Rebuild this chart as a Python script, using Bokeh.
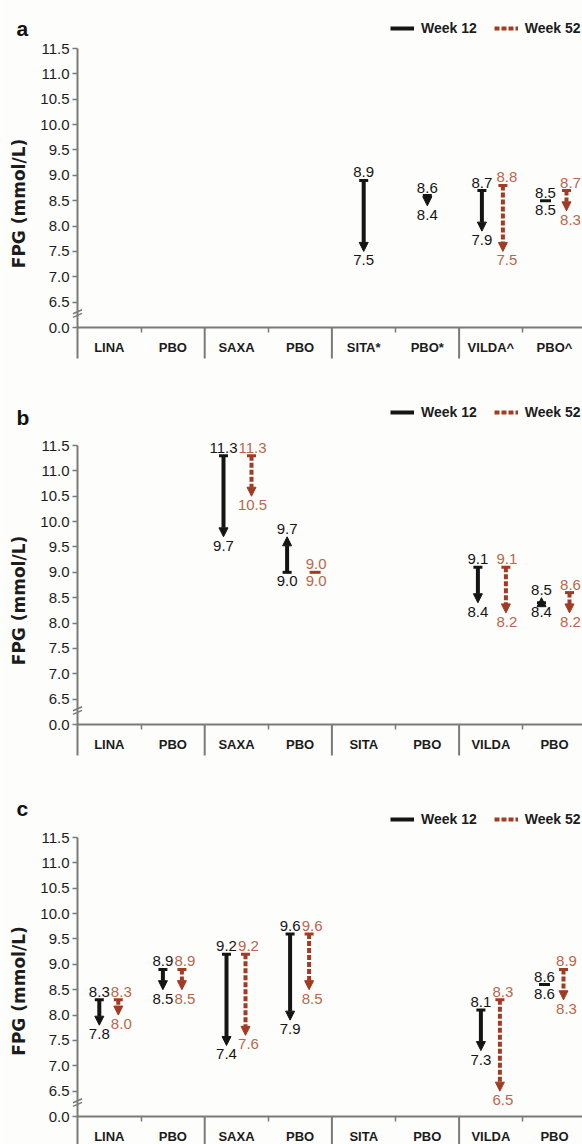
from bokeh.plotting import figure
from bokeh.models import (ColumnDataSource, Range1d, FixedTicker, LinearAxis, Arrow,
                          NormalHead, TeeHead, Legend, LegendItem)
from bokeh.layouts import column
from bokeh.core.properties import value
from bokeh.embed import file_html
from bokeh.resources import INLINE

# ---------------- data ----------------
CATS_A = ["LINA", "PBO", "SAXA", "PBO", "SITA*", "PBO*", "VILDA^", "PBO^"]
CATS_BC = ["LINA", "PBO", "SAXA", "PBO", "SITA", "PBO", "VILDA", "PBO"]

# panel a
A_W12_POS = [4, 5, 6, 7]
A_W12_BASE = [8.9, 8.6, 8.7, 8.5]
A_W12_END = [7.5, 8.4, 7.9, 8.5]
A_W52_POS = [6, 7]
A_W52_BASE = [8.8, 8.7]
A_W52_END = [7.5, 8.3]

# panel b
B_W12_POS = [2, 3, 6, 7]
B_W12_BASE = [11.3, 9.0, 9.1, 8.4]
B_W12_END = [9.7, 9.7, 8.4, 8.5]
B_W52_POS = [2, 3, 6, 7]
B_W52_BASE = [11.3, 9.0, 9.1, 8.6]
B_W52_END = [10.5, 9.0, 8.2, 8.2]

# panel c
C_W12_POS = [0, 1, 2, 3, 6, 7]
C_W12_BASE = [8.3, 8.9, 9.2, 9.6, 8.1, 8.6]
C_W12_END = [7.8, 8.5, 7.4, 7.9, 7.3, 8.6]
C_W52_POS = [0, 1, 2, 3, 6, 7]
C_W52_BASE = [8.3, 8.9, 9.2, 9.6, 8.3, 8.9]
C_W52_END = [8.0, 8.5, 7.6, 8.5, 6.5, 8.3]

Y_TICKS = [6.0, 6.5, 7.0, 7.5, 8.0, 8.5, 9.0, 9.5, 10.0, 10.5, 11.0, 11.5]
Y_TICK_LABELS = ["0.0", "6.5", "7.0", "7.5", "8.0", "8.5", "9.0", "9.5",
                 "10.0", "10.5", "11.0", "11.5"]
GROUP_EDGES = [2, 4, 6, 8]
INNER_EDGES = [1, 3, 5, 7]
LEGEND_LABELS = ["Week 12", "Week 52"]

# ---------------- style ----------------
BLACK = "#151515"
RED = "#a23b24"
RED_TXT = "#b9674d"
AXIS = "#7a7a7a"
BG = "#fdfdfb"
TXT = "#1c1c1c"
FONT = "Liberation Sans"
PX_CAT = 63.6     # px per category
PX_UNIT = 50.73   # px per 1 mmol/L
FIG_W = 582
AXIS_X = 77       # pixel position of the y axis
SEP_PX = 31       # separator length below the x axis


def add_week(p, pos, base, end, other_pos, off_px, color, txt_color, dash, lab_dx):
    xs = [c + 0.5 + (off_px / PX_CAT if c in other_pos else 0.0) for c in pos]
    mv = [i for i in range(len(pos)) if base[i] != end[i]]
    fl = [i for i in range(len(pos)) if base[i] == end[i]]
    if mv:
        src = ColumnDataSource(dict(x=[xs[i] for i in mv], y0=[base[i] for i in mv],
                                    y1=[end[i] for i in mv]))
        p.add_layout(Arrow(source=src, x_start="x", y_start="y0", x_end="x", y_end="y1",
                           line_color=color, line_width=4, line_dash=dash,
                           start=TeeHead(size=9, line_color=color, line_width=3),
                           end=NormalHead(size=9, fill_color=color, line_color=color,
                                          line_width=1)))
    if fl:
        p.scatter(x=[xs[i] for i in fl], y=[base[i] for i in fl], marker="dash",
                  size=11, line_color=color, line_width=3)
    hi = [max(a, b) for a, b in zip(base, end)]
    lo = [min(a, b) for a, b in zip(base, end)]
    dx = [lab_dx if c in other_pos else 0 for c in pos]
    p.text(x=xs, y=hi, text=[f"{v:.1f}" for v in hi], text_align="center",
           text_baseline="bottom", x_offset=dx, y_offset=-3, text_color=txt_color,
           text_font=value(FONT), text_font_size="15px")
    p.text(x=xs, y=lo, text=[f"{v:.1f}" for v in lo], text_align="center",
           text_baseline="top", x_offset=dx, y_offset=4, text_color=txt_color,
           text_font=value(FONT), text_font_size="15px")


def make_panel(letter, cats, w12, w52, fig_h, y115_px, offs, red_dx, letter_base_px, legend_px):
    hi = 11.5 + y115_px / PX_UNIT
    lo = hi - fig_h / PX_UNIT
    x0 = -AXIS_X / PX_CAT
    x1 = (FIG_W - AXIS_X) / PX_CAT
    p = figure(width=FIG_W, height=fig_h, x_range=Range1d(x0, x1), y_range=Range1d(lo, hi),
               output_backend="svg", toolbar_location=None,
               x_axis_location=None, y_axis_location=None, min_border=0,
               background_fill_color=BG, border_fill_color=BG, outline_line_color=None)
    p.grid.visible = False
    sep_lo = max(lo, 6.0 - SEP_PX / PX_UNIT)

    ya = LinearAxis(fixed_location=0,
                    ticker=FixedTicker(ticks=Y_TICKS, minor_ticks=[]),
                    major_label_overrides=dict(zip(Y_TICKS, Y_TICK_LABELS)),
                    bounds=(sep_lo, 11.5),
                    axis_line_color=AXIS, axis_line_width=2,
                    major_tick_line_color=AXIS, major_tick_line_width=1.5,
                    major_tick_out=5, major_tick_in=0, minor_tick_line_color=None,
                    major_label_standoff=3, major_label_text_font=FONT,
                    major_label_text_font_size="15px", major_label_text_color=TXT,
                    axis_label="FPG (mmol/L)", axis_label_text_font="DejaVu Sans",
                    axis_label_text_font_style="bold", axis_label_text_font_size="17px",
                    axis_label_text_color=TXT, axis_label_standoff=8)
    p.add_layout(ya, "left")

    centers = [i + 0.5 for i in range(len(cats))]
    xa = LinearAxis(fixed_location=6.0,
                    ticker=FixedTicker(ticks=centers, minor_ticks=INNER_EDGES),
                    major_label_overrides=dict(zip(centers, cats)),
                    bounds=(0, x1),
                    axis_line_color=AXIS, axis_line_width=2,
                    major_tick_line_color=None, major_tick_out=0, major_tick_in=0,
                    minor_tick_line_color=AXIS, minor_tick_line_width=1.5,
                    minor_tick_out=5, minor_tick_in=0,
                    major_label_standoff=7, major_label_text_font=FONT,
                    major_label_text_font_style="bold", major_label_text_font_size="13px",
                    major_label_text_color=TXT)
    p.add_layout(xa, "below")

    # group separators below the x axis
    p.segment(x0=GROUP_EDGES, y0=[6.0] * len(GROUP_EDGES), x1=GROUP_EDGES,
              y1=[sep_lo] * len(GROUP_EDGES), line_color=AXIS, line_width=2)

    # axis break marks
    p.segment(x0=[-4.5 / PX_CAT] * 2, y0=[6.24 - 2 / PX_UNIT, 6.31 - 2 / PX_UNIT],
              x1=[4.5 / PX_CAT] * 2, y1=[6.24 + 2 / PX_UNIT, 6.31 + 2 / PX_UNIT],
              line_color=AXIS, line_width=1.5)

    add_week(p, *w12, w52[0], offs[0], BLACK, BLACK, "solid", 0)
    add_week(p, *w52, w12[0], offs[1], RED, RED_TXT, "5 2", red_dx)

    r12 = p.line(x=[x0 - 5, x0 - 4], y=[0, 0], line_color=BLACK, line_width=4)
    r52 = p.line(x=[x0 - 5, x0 - 4], y=[0, 0], line_color=RED, line_width=4, line_dash="5 2")
    leg = Legend(items=[LegendItem(label=LEGEND_LABELS[0], renderers=[r12]),
                        LegendItem(label=LEGEND_LABELS[1], renderers=[r52])],
                 orientation="horizontal", location=legend_px, padding=0, margin=0,
                 spacing=17, glyph_width=24, glyph_height=16, label_standoff=7,
                 background_fill_alpha=0, border_line_color=None,
                 label_text_font=FONT, label_text_font_style="bold",
                 label_text_font_size="14px", label_text_color=TXT)
    p.add_layout(leg)

    p.text(x=[(16 - AXIS_X) / PX_CAT], y=[11.5 + (y115_px - letter_base_px) / PX_UNIT],
           text=[letter], text_font=value(FONT), text_font_style="bold",
           text_font_size="21px", text_color="#111111", text_baseline="alphabetic")
    return p


pa = make_panel("a", CATS_A, (A_W12_POS, A_W12_BASE, A_W12_END),
                (A_W52_POS, A_W52_BASE, A_W52_END),
                390, 48, (-9, 12), 4, 28, (390, 354))
pb = make_panel("b", CATS_BC, (B_W12_POS, B_W12_BASE, B_W12_END),
                (B_W52_POS, B_W52_BASE, B_W52_END),
                392, 55, (-13, 15), 1, 27, (390, 362))
pc = make_panel("c", CATS_BC, (C_W12_POS, C_W12_BASE, C_W12_END),
                (C_W52_POS, C_W52_BASE, C_W52_END),
                362, 55, (-10, 9), 3, 26, (390, 317))

layout = column(pa, pb, pc, spacing=0)
open("out.html", "w").write(file_html(layout, INLINE))
